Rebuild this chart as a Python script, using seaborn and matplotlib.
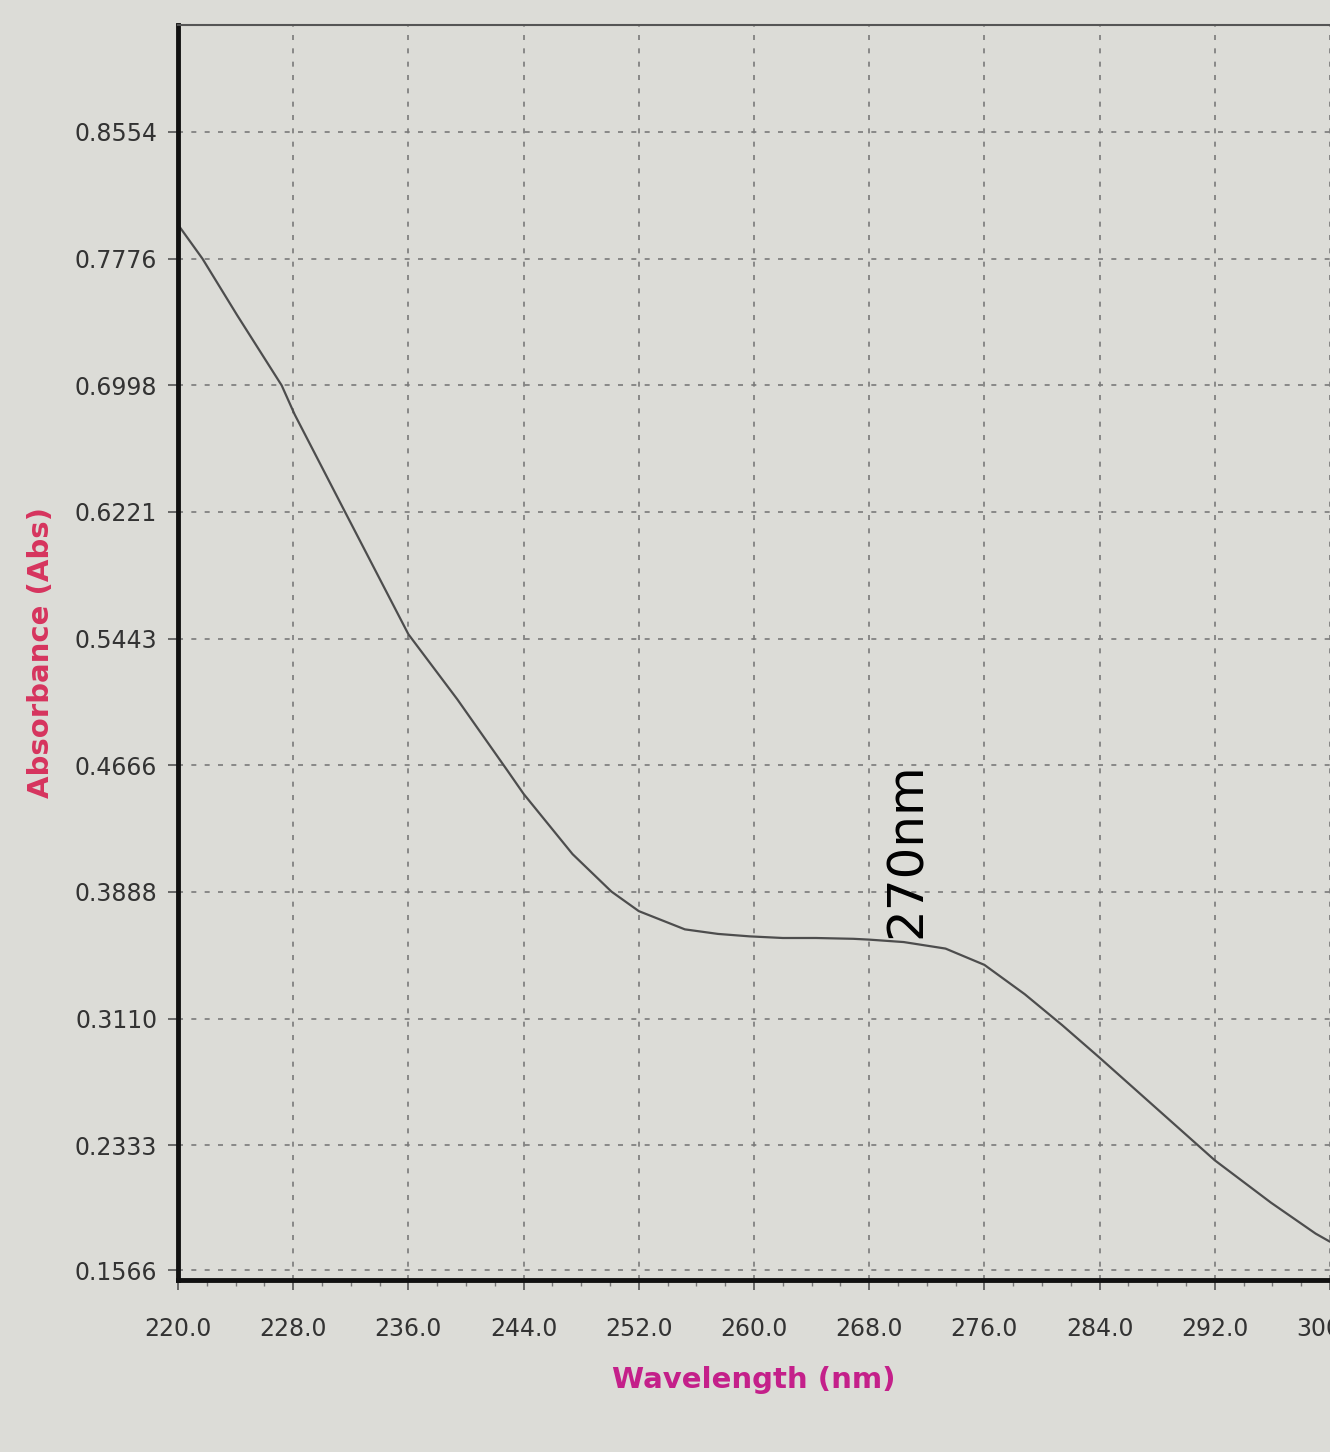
import numpy as np
import pandas as pd
import seaborn as sns
import matplotlib.pyplot as plt
from matplotlib.ticker import MultipleLocator

wavelength = [220.0, 221.7, 224.1, 227.2, 228.1, 231.6, 236.0, 239.4, 242.9, 244.0,
              247.4, 250.1, 252.0, 255.2, 257.5, 259.7, 262.0, 264.3, 266.9, 268.0,
              270.4, 273.3, 276.0, 278.8, 281.4, 284.0, 288.0, 292.0, 295.9, 299.0,
              300.0]
absorbance = [0.7985, 0.7776, 0.7430, 0.6998, 0.6820, 0.6221, 0.5470, 0.5070, 0.4630, 0.4490,
              0.4120, 0.3890, 0.3770, 0.3658, 0.3630, 0.3615, 0.3605, 0.3605, 0.3600, 0.3595,
              0.3580, 0.3540, 0.3440, 0.3260, 0.3070, 0.2870, 0.2555, 0.2240, 0.1980, 0.1790,
              0.1740]

y_ticks = [0.8554, 0.7776, 0.6998, 0.6221, 0.5443, 0.4666, 0.3888, 0.3110, 0.2333, 0.1566]
y_labels = ["0.8554", "0.7776", "0.6998", "0.6221", "0.5443",
            "0.4666", "0.3888", "0.3110", "0.2333", "0.1566"]
x_ticks = [220, 228, 236, 244, 252, 260, 268, 276, 284, 292, 300]
x_labels = [f"{v:.1f}" for v in x_ticks]

df = pd.DataFrame({"Wavelength": wavelength, "Absorbance": absorbance})

sns.set_style("ticks")
plt.rcParams["font.family"] = ["DejaVu Sans"]

fondo = "#dcdcd7"
fig = plt.figure(figsize=(13.3, 14.52), dpi=100, facecolor=fondo)
ax = fig.add_axes([178 / 1330, 1 - 1280 / 1452, 1 - 178 / 1330, (1280 - 25) / 1452])
ax.set_facecolor(fondo)

sns.lineplot(data=df, x="Wavelength", y="Absorbance", ax=ax,
             color="#4d4d4d", linewidth=1.6)

ax.set_xlim(220, 299.9)
ax.set_ylim(0.1505, 0.9211)
ax.set_xticks(x_ticks)
ax.set_xticklabels(x_labels)
ax.set_yticks(y_ticks)
ax.set_yticklabels(y_labels)
ax.xaxis.set_minor_locator(MultipleLocator(2))

ax.grid(True, which="major", linestyle=(0, (3, 5)), color="#7a7a7a", linewidth=1.2)
ax.tick_params(axis="both", which="major", labelsize=17, labelcolor="#333333",
               length=7, width=1.2, color="#555555", pad=8)
ax.tick_params(axis="x", which="major", pad=20)
ax.tick_params(axis="x", which="minor", length=4, width=1, color="#777777")

for lado in ["left", "bottom"]:
    ax.spines[lado].set_linewidth(3.5)
    ax.spines[lado].set_color("#111111")
ax.spines["top"].set_linewidth(1.5)
ax.spines["top"].set_color("#555555")
ax.spines["right"].set_visible(False)

ax.set_xlabel("Wavelength (nm)", fontsize=21, fontweight="bold", color="#c4208a", labelpad=18)
ax.set_ylabel("Absorbance (Abs)", fontsize=21, fontweight="bold", color="#d6345e", labelpad=14)

ax.text(270.6, 0.4146, "270nm", rotation=90, fontsize=36, color="black",
        ha="center", va="center")

fig.savefig("out.png", dpi=100, facecolor=fondo)
